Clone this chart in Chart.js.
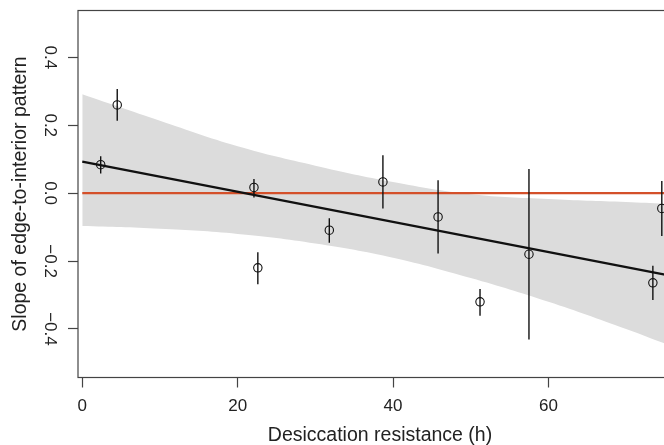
<!DOCTYPE html>
<html>
<head>
<meta charset="utf-8">
<script src="https://cdn.jsdelivr.net/npm/chart.js@4/dist/chart.umd.min.js"></script>
<style>
  html, body { margin: 0; padding: 0; overflow: hidden; background: #fff; }
  #wrap { width: 700px; height: 445px; }
</style>
</head>
<body>
<div id="wrap"><canvas id="plot"></canvas></div>
<script>
// observations: desiccation resistance vs slope, with error bars
const xVals   = [2.37, 4.5, 22.1, 22.6, 31.8, 38.7, 45.8, 51.2, 57.5, 73.45, 74.6];
const yVals   = [0.084, 0.26, 0.017, -0.22, -0.109, 0.033, -0.07, -0.32, -0.18, -0.264, -0.045];
const errLow  = [0.058, 0.213, -0.013, -0.268, -0.146, -0.045, -0.178, -0.361, -0.431, -0.315, -0.126];
const errHigh = [0.109, 0.307, 0.042, -0.174, -0.074, 0.112, 0.038, -0.282, 0.071, -0.214, 0.036];

// confidence band of the fit
const bandX     = [0, 10, 20, 30, 40, 50, 60, 70, 75];
const bandUpper = [0.291, 0.213, 0.138, 0.081, 0.033, -0.003, -0.017, -0.026, -0.031];
const bandLower = [-0.097, -0.105, -0.12, -0.148, -0.19, -0.25, -0.32, -0.40, -0.443];

// fitted line and zero reference
const fitX = [0, 75];
const fitY = [0.093, -0.240];
const refX = [0, 75];
const refY = [0, 0];

const xMin = -0.55, xMax = 77.2;
const yMin = -0.543, yMax = 0.538;

const pairs = (xs, ys) => xs.map((x, i) => ({x: x, y: ys[i]}));

const barPts = [];
xVals.forEach((x, i) => {
  barPts.push({x: x, y: errLow[i]}, {x: x, y: errHigh[i]}, {x: x, y: null});
});

Chart.defaults.font.family = '"Liberation Sans", Arial, Helvetica, sans-serif';
Chart.defaults.color = '#222';

const frame = {
  id: 'frame',
  afterDraw(chart) {
    const a = chart.chartArea, ctx = chart.ctx;
    ctx.save();
    ctx.strokeStyle = '#444';
    ctx.lineWidth = 1.2;
    ctx.strokeRect(a.left, a.top, a.right - a.left, a.bottom - a.top);
    ctx.restore();
  }
};

const minus = v => (Math.abs(v) < 1e-9 ? '0.0' : v.toFixed(1).replace('-', '\u2212'));

new Chart(document.getElementById('plot'), {
  type: 'scatter',
  data: {
    datasets: [
      {
        data: pairs(xVals, yVals),
        pointStyle: 'circle',
        pointRadius: 4.2,
        pointBorderWidth: 1.1,
        pointBorderColor: '#111',
        pointBackgroundColor: 'rgba(0,0,0,0)'
      },
      {
        data: barPts,
        showLine: true,
        spanGaps: false,
        borderColor: '#111',
        borderWidth: 1.4,
        pointRadius: 0
      },
      {
        data: pairs(fitX, fitY),
        showLine: true,
        borderColor: '#111',
        borderWidth: 2.4,
        pointRadius: 0
      },
      {
        data: pairs(refX, refY),
        showLine: true,
        borderColor: '#d4502a',
        borderWidth: 2.4,
        pointRadius: 0
      },
      {
        data: pairs(bandX, bandUpper),
        showLine: true,
        tension: 0.4,
        borderWidth: 0,
        borderColor: 'rgba(0,0,0,0)',
        backgroundColor: '#dcdcdc',
        fill: 5,
        pointRadius: 0
      },
      {
        data: pairs(bandX, bandLower),
        showLine: true,
        tension: 0.4,
        borderWidth: 0,
        borderColor: 'rgba(0,0,0,0)',
        fill: false,
        pointRadius: 0
      }
    ]
  },
  options: {
    responsive: true,
    maintainAspectRatio: false,
    animation: false,
    layout: { padding: { top: 10, right: 18, left: 0, bottom: 0 } },
    plugins: { legend: { display: false }, tooltip: { enabled: false } },
    scales: {
      x: {
        type: 'linear',
        min: xMin,
        max: xMax,
        border: { display: false },
        grid: { drawOnChartArea: false, drawTicks: true, tickLength: 10, color: '#444', tickWidth: 1.2 },
        ticks: { stepSize: 20, includeBounds: false, padding: 9, font: { size: 17 }, color: '#222' },
        title: {
          display: true,
          text: 'Desiccation resistance (h)',
          font: { size: 19.5, lineHeight: 1 },
          padding: { top: 0, bottom: 0 },
          color: '#222'
        },
        afterFit(scale) { scale.height = 67.5; }
      },
      y: {
        type: 'linear',
        min: yMin,
        max: yMax,
        border: { display: false },
        grid: { drawOnChartArea: false, drawTicks: true, tickLength: 10, color: '#444', tickWidth: 1.2 },
        ticks: {
          stepSize: 0.2,
          includeBounds: false,
          minRotation: -90,
          maxRotation: -90,
          crossAlign: 'center',
          padding: 2,
          font: { size: 17, lineHeight: 1 },
          color: '#222',
          callback: v => minus(v)
        },
        title: {
          display: true,
          text: 'Slope of edge-to-interior pattern',
          font: { size: 19.5, lineHeight: 1 },
          padding: { top: 11, bottom: 0 },
          color: '#222'
        },
        afterFit(scale) { scale.width = 78; }
      }
    }
  },
  plugins: [frame]
});
</script>
</body>
</html>
